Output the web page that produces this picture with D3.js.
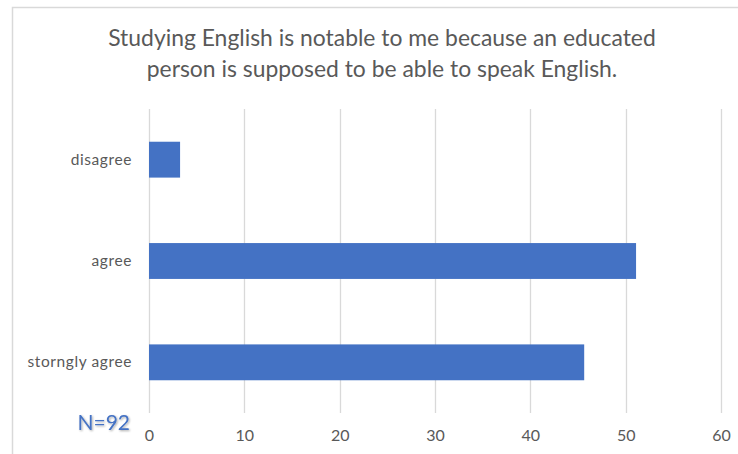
<!DOCTYPE html>
<html>
<head>
<meta charset="utf-8">
<script src="https://cdn.jsdelivr.net/npm/d3@7"></script>
<style>
  html, body { margin: 0; padding: 0; background: #fff; }
  svg { display: block; }
</style>
</head>
<body>
<svg id="chart" width="738" height="454"></svg>
<script>
// Survey answers (percent of respondents, N = 92)
const categories = ["disagree", "agree", "storngly agree"];
const values = [3.26, 51.09, 45.65];
const xTicks = [0, 10, 20, 30, 40, 50, 60];
const titleLines = [
  "Studying English is notable to me because an educated",
  "person is supposed to be able to speak English."
];
const noteText = "N=92";

const W = 738, H = 454;
const plot = { left: 149, right: 721, top: 109, bottom: 413 };
const textFont = "Lato, 'Open Sans', sans-serif";
const grey = "#595959";
const barColor = "#4472C4";

const svg = d3.select("#chart");

// chart frame
svg.append("rect")
  .attr("x", 12.5).attr("y", 7.5)
  .attr("width", W + 20).attr("height", H + 20)
  .attr("fill", "#fff").attr("stroke", "#d9d9d9").attr("stroke-width", 1.5);

const x = d3.scaleLinear().domain([0, 60]).range([plot.left, plot.right]);
const y = d3.scaleBand().domain(categories)
  .range([plot.top, plot.bottom])
  .paddingInner(0.646).paddingOuter(0.323);

// vertical gridlines
svg.append("g").selectAll("line").data(xTicks).join("line")
  .attr("x1", d => Math.round(x(d)) + 0.5).attr("x2", d => Math.round(x(d)) + 0.5)
  .attr("y1", plot.top).attr("y2", plot.bottom)
  .attr("stroke", "#d9d9d9").attr("stroke-width", 1.3);

// bars
svg.append("g").selectAll("rect").data(categories).join("rect")
  .attr("x", x(0))
  .attr("y", d => y(d))
  .attr("width", (d, i) => x(values[i]) - x(0))
  .attr("height", y.bandwidth())
  .attr("fill", barColor);

// x axis tick labels
const xAxis = d3.axisBottom(x).tickValues(xTicks).tickSize(0).tickPadding(0);
const gx = svg.append("g").attr("transform", `translate(0, ${plot.bottom + 17})`).call(xAxis);
gx.select(".domain").remove();
gx.selectAll("text")
  .attr("fill", grey).attr("font-family", textFont).attr("font-size", 16)
  .attr("dy", "0.71em");

// category labels
const yAxis = d3.axisLeft(y).tickSize(0).tickPadding(0);
const gy = svg.append("g").attr("transform", `translate(${plot.left - 17}, 0)`).call(yAxis);
gy.select(".domain").remove();
gy.selectAll("text")
  .attr("fill", grey).attr("font-family", textFont).attr("font-size", 15.5)
  .attr("letter-spacing", "0.6px");

// title, sized to its line width
const title = svg.append("g");
const titleBase = [46, 77];
titleLines.forEach((t, i) => {
  title.append("text")
    .attr("x", 382).attr("y", titleBase[i])
    .attr("text-anchor", "middle")
    .attr("fill", grey).attr("font-family", textFont).attr("font-size", 22)
    .text(t);
});
const first = title.select("text").node();
const fs = 22 * 548 / first.getComputedTextLength();
title.selectAll("text").attr("font-size", fs);

// sample size note
const defs = svg.append("defs");
const glow = defs.append("filter").attr("id", "soft").attr("x", "-20%").attr("y", "-30%")
  .attr("width", "140%").attr("height", "160%");
glow.append("feGaussianBlur").attr("in", "SourceAlpha").attr("stdDeviation", 0.8).attr("result", "b");
glow.append("feOffset").attr("in", "b").attr("dx", 0.5).attr("dy", 0.8).attr("result", "o");
glow.append("feComponentTransfer").attr("in", "o").attr("result", "s")
  .append("feFuncA").attr("type", "linear").attr("slope", 0.35);
const merge = glow.append("feMerge");
merge.append("feMergeNode").attr("in", "s");
merge.append("feMergeNode").attr("in", "SourceGraphic");

svg.append("text")
  .attr("x", 130).attr("y", 430)
  .attr("text-anchor", "end")
  .attr("fill", barColor).attr("font-family", textFont).attr("font-size", 21)
  .attr("filter", "url(#soft)")
  .text(noteText);
</script>
</body>
</html>
